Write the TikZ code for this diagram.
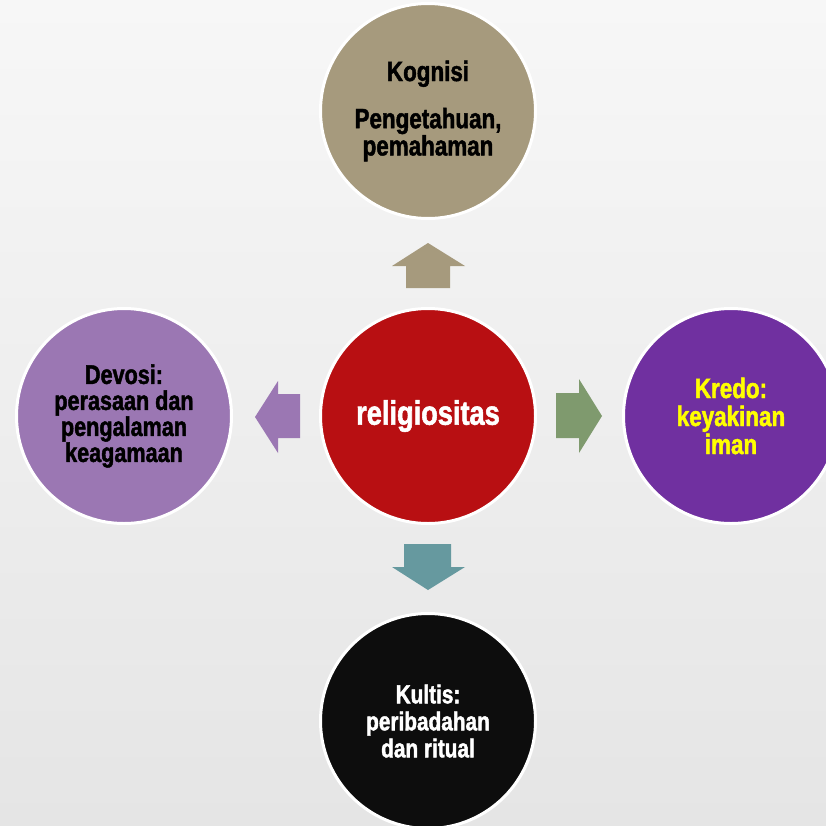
\documentclass[tikz,border=0pt]{standalone}
\usepackage{fontspec}
\newfontfamily\condfont{Liberation Sans}[FakeStretch=0.8,FakeBold=1.6]
\definecolor{bgtop}{HTML}{F7F7F7}
\definecolor{bgbot}{HTML}{E5E5E5}
\definecolor{tan}{HTML}{A69A7D}
\definecolor{crimson}{HTML}{B80F12}
\definecolor{lilac}{HTML}{9B77B3}
\definecolor{violet}{HTML}{7030A0}
\definecolor{sage}{HTML}{7F9A6E}
\definecolor{teal}{HTML}{66999F}
\definecolor{ink}{HTML}{0D0D0D}
\definecolor{lemon}{HTML}{FFFF00}
\tikzset{
  disc/.style={circle, draw=white, line width=3pt, minimum size=215pt,
    inner sep=0pt, align=center, font=\condfont\bfseries\fontsize{27}{26}\selectfont}
}
\begin{document}
\begin{tikzpicture}[x=1pt,y=-1pt]
  % page background
  \shade[top color=bgtop, bottom color=bgbot] (0,0) rectangle (826,825);
  \useasboundingbox (0,0) rectangle (826,825);

  % block arrows pointing outward from the centre
  \fill[tan] (428,243) -- (465,266) -- (450,266) -- (450,288) -- (406,288) -- (406,266) -- (392,266) -- cycle;
  \fill[teal] (428,590) -- (465,567) -- (451,567) -- (451,544) -- (404,544) -- (404,567) -- (392,567) -- cycle;
  \fill[lilac] (255,417) -- (278,381) -- (278,394) -- (300,394) -- (300,438) -- (278,438) -- (278,453) -- cycle;
  \fill[sage] (602,416) -- (579,379) -- (579,393) -- (556,393) -- (556,438) -- (579,438) -- (579,453) -- cycle;

  % circles
  \node[disc, fill=crimson, text=white,
        font=\condfont\bfseries\fontsize{34}{34}\selectfont] (center) at (428,416) {religiositas};
  \node[disc, fill=tan, text=black, font=\condfont\bfseries\fontsize{28}{24}\selectfont] (kognisi) at (428,111)
    {Kognisi\\[20pt]Pengetahuan,\\pemahaman};
  \node[disc, fill=lilac, text=black] (devosi) at (124,416)
    {Devosi:\\perasaan dan\\pengalaman\\keagamaan};
  \node[disc, fill=violet, text=lemon,
        font=\condfont\bfseries\fontsize{28}{28}\selectfont] (kredo) at (731,416)
    {Kredo:\\keyakinan\\iman};
  \node[disc, fill=ink, text=white,
        font=\condfont\bfseries\fontsize{26}{27}\selectfont] (kultis) at (428,721)
    {Kultis:\\peribadahan\\dan ritual};
\end{tikzpicture}
\end{document}
